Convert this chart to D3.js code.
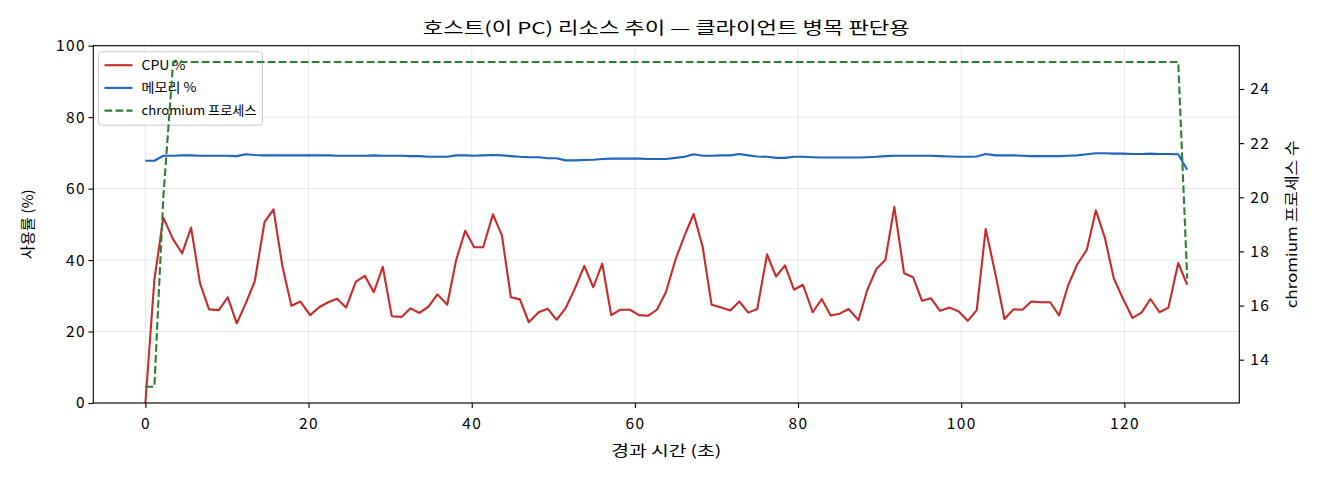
<!DOCTYPE html>
<html>
<head>
<meta charset="utf-8">
<script src="https://cdn.jsdelivr.net/npm/d3@7"></script>
<style>
body { margin: 0; background: #fff; }
text { font-family: "Noto Sans CJK KR", "Noto Sans", sans-serif; fill: #000; }
</style>
</head>
<body>
<div id="chart"></div>
<script>
// elapsed seconds per sample
const elapsed = [
  0.0, 1.1, 2.2, 3.4, 4.5, 5.6, 6.7, 7.8, 9.0, 10.1,
  11.2, 12.3, 13.4, 14.6, 15.7, 16.8, 17.9, 19.0, 20.2, 21.3,
  22.4, 23.5, 24.6, 25.8, 26.9, 28.0, 29.1, 30.2, 31.4, 32.5,
  33.6, 34.7, 35.8, 37.0, 38.1, 39.2, 40.3, 41.4, 42.6, 43.7,
  44.8, 45.9, 47.0, 48.2, 49.3, 50.4, 51.5, 52.6, 53.8, 54.9,
  56.0, 57.1, 58.2, 59.4, 60.5, 61.6, 62.7, 63.8, 65.0, 66.1,
  67.2, 68.3, 69.4, 70.6, 71.7, 72.8, 73.9, 75.0, 76.2, 77.3,
  78.4, 79.5, 80.6, 81.8, 82.9, 84.0, 85.1, 86.2, 87.4, 88.5,
  89.6, 90.7, 91.8, 93.0, 94.1, 95.2, 96.3, 97.4, 98.6, 99.7,
  100.8, 101.9, 103.0, 104.2, 105.3, 106.4, 107.5, 108.6, 109.8, 110.9,
  112.0, 113.1, 114.2, 115.4, 116.5, 117.6, 118.7, 119.8, 121.0, 122.1,
  123.2, 124.3, 125.4, 126.6, 127.7
];

const cpuPct = [
  0, 34.5, 51.9, 45.8, 41.9, 49.1, 33.5, 26.2, 26.0, 29.6,
  22.3, 27.9, 34.0, 50.6, 54.2, 38.2, 27.2, 28.4, 24.6, 26.8,
  28.2, 29.2, 26.7, 34.0, 35.6, 31.0, 38.1, 24.3, 24.1, 26.5,
  25.2, 27.0, 30.4, 27.5, 40.1, 48.2, 43.6, 43.6, 52.8, 46.9,
  29.6, 29.0, 22.6, 25.4, 26.4, 23.3, 26.5, 31.8, 38.4, 32.4,
  39.0, 24.6, 26.1, 26.1, 24.6, 24.4, 26.1, 31.0, 40.3, 46.9,
  52.9, 43.8, 27.5, 26.7, 25.9, 28.4, 25.3, 26.3, 41.6, 35.4,
  38.5, 31.7, 33.1, 25.4, 29.1, 24.5, 25.0, 26.3, 23.2, 31.7,
  37.5, 40.0, 54.9, 36.3, 35.2, 28.6, 29.3, 25.8, 26.7, 25.6,
  23.0, 26.0, 48.7, 36.0, 23.5, 26.2, 26.1, 28.4, 28.2, 28.2,
  24.5, 32.9, 38.7, 42.9, 53.9, 46.3, 34.9, 29.3, 23.8, 25.3,
  29.1, 25.4, 26.7, 39.2, 33.1
];

const memPct = [
  67.8, 67.8, 69.2, 69.2, 69.3, 69.3, 69.2, 69.2, 69.2, 69.2,
  69.1, 69.6, 69.4, 69.3, 69.3, 69.3, 69.3, 69.3, 69.3, 69.3,
  69.3, 69.2, 69.2, 69.2, 69.2, 69.3, 69.2, 69.2, 69.2, 69.1,
  69.1, 68.9, 68.9, 68.9, 69.3, 69.3, 69.2, 69.3, 69.4, 69.3,
  69.1, 68.9, 68.8, 68.8, 68.5, 68.5, 67.9, 67.9, 68.0, 68.1,
  68.3, 68.4, 68.4, 68.4, 68.4, 68.3, 68.3, 68.3, 68.6, 68.9,
  69.6, 69.2, 69.2, 69.3, 69.3, 69.7, 69.3, 69.0, 68.9, 68.6,
  68.6, 68.9, 68.9, 68.8, 68.7, 68.7, 68.7, 68.7, 68.7, 68.8,
  68.9, 69.1, 69.2, 69.2, 69.2, 69.2, 69.2, 69.1, 69.0, 68.9,
  68.9, 69.0, 69.7, 69.3, 69.3, 69.3, 69.2, 69.1, 69.1, 69.1,
  69.1, 69.2, 69.3, 69.6, 69.9, 69.9, 69.8, 69.8, 69.7, 69.7,
  69.8, 69.7, 69.7, 69.6, 65.3
];

const chromiumProcs = [
  13, 13, 20, 25, 25, 25, 25, 25, 25, 25,
  25, 25, 25, 25, 25, 25, 25, 25, 25, 25,
  25, 25, 25, 25, 25, 25, 25, 25, 25, 25,
  25, 25, 25, 25, 25, 25, 25, 25, 25, 25,
  25, 25, 25, 25, 25, 25, 25, 25, 25, 25,
  25, 25, 25, 25, 25, 25, 25, 25, 25, 25,
  25, 25, 25, 25, 25, 25, 25, 25, 25, 25,
  25, 25, 25, 25, 25, 25, 25, 25, 25, 25,
  25, 25, 25, 25, 25, 25, 25, 25, 25, 25,
  25, 25, 25, 25, 25, 25, 25, 25, 25, 25,
  25, 25, 25, 25, 25, 25, 25, 25, 25, 25,
  25, 25, 25, 25, 17
];

const xTicks = [0, 20, 40, 60, 80, 100, 120];
const yTicks = [0, 20, 40, 60, 80, 100];
const y2Ticks = [14, 16, 18, 20, 22, 24];
const seriesNames = ["CPU %", "메모리 %", "chromium 프로세스"];

const chartTitle = "호스트(이 PC) 리소스 추이 — 클라이언트 병목 판단용";
const xLabel = "경과 시간 (초)";
const yLabel = "사용률 (%)";
const y2Label = "chromium 프로세스 수";

const w = 1320, h = 480;
const padL = 93.3, padR = 1239.3, padT = 45.7, padB = 403;

const cpuColor = "#c92a2a", memColor = "#1c66c6", procColor = "#2e7d32";
const dashPat = "7.7,3.3";

// matplotlib-style 5% padding
function padded(ext) {
	let d = (ext[1] - ext[0]) * 0.05;
	return [ext[0] - d, ext[1] + d];
}

const svg = d3.select("#chart")
	.append("svg")
	.attr("width", w)
	.attr("height", h);

svg.append("rect").attr("width", w).attr("height", h).attr("fill", "#fff");

const xScale = d3.scaleLinear()
	.domain(padded(d3.extent(elapsed)))
	.range([padL, padR]);

const yScale = d3.scaleLinear()
	.domain([0, 100])
	.range([padB, padT]);

const y2Scale = d3.scaleLinear()
	.domain(padded(d3.extent(chromiumProcs)))
	.range([padB, padT]);

// grid
const grid = svg.append("g");
grid.selectAll(".vg").data(xTicks).enter().append("line")
	.attr("x1", d => xScale(d)).attr("x2", d => xScale(d))
	.attr("y1", padT).attr("y2", padB)
	.attr("stroke", "#b0b0b0").attr("stroke-opacity", 0.3).attr("stroke-width", 1);
grid.selectAll(".hg").data(yTicks).enter().append("line")
	.attr("y1", d => yScale(d)).attr("y2", d => yScale(d))
	.attr("x1", padL).attr("x2", padR)
	.attr("stroke", "#b0b0b0").attr("stroke-opacity", 0.3).attr("stroke-width", 1);

const idx = d3.range(elapsed.length);

function drawLine(values, scale, color, dash) {
	let p = svg.append("path")
		.datum(idx)
		.attr("fill", "none")
		.attr("stroke", color)
		.attr("stroke-width", 2.1)
		.attr("stroke-linejoin", "round")
		.attr("d", d3.line()
			.x(i => xScale(elapsed[i]))
			.y(i => scale(values[i])));
	if (dash) p.attr("stroke-dasharray", dash);
	return p;
}

// clip for the plot area
svg.append("clipPath").attr("id", "plot")
	.append("rect").attr("x", padL).attr("y", padT)
	.attr("width", padR - padL).attr("height", padB - padT);

drawLine(cpuPct, yScale, cpuColor).attr("clip-path", "url(#plot)");
drawLine(memPct, yScale, memColor).attr("clip-path", "url(#plot)");

// legend (belongs to left axes, twin line is drawn over it)
const legend = svg.append("g").attr("transform", "translate(98.5,51.7)");
legend.append("rect")
	.attr("width", 164).attr("height", 73.5)
	.attr("rx", 3).attr("ry", 3)
	.attr("fill", "#fff").attr("fill-opacity", 0.8)
	.attr("stroke", "#cccccc").attr("stroke-width", 1);
const legendItems = [
	{ name: seriesNames[0], color: cpuColor, dash: null, len: 44 },
	{ name: seriesNames[1], color: memColor, dash: null, len: 55 },
	{ name: seriesNames[2], color: procColor, dash: dashPat, len: 115 }
];
legendItems.forEach((it, i) => {
	let yy = 13.5 + i * 22.7;
	legend.append("line")
		.attr("x1", 6).attr("x2", 34)
		.attr("y1", yy).attr("y2", yy)
		.attr("stroke", it.color).attr("stroke-width", 2.1)
		.attr("stroke-dasharray", it.dash);
	legend.append("text")
		.attr("x", 43).attr("y", yy + 4.5)
		.attr("font-size", 13)
		.attr("textLength", it.len)
		.attr("lengthAdjust", "spacingAndGlyphs")
		.text(it.name);
});

drawLine(chromiumProcs, y2Scale, procColor, dashPat).attr("clip-path", "url(#plot)");

// axes
const xAxis = d3.axisBottom(xScale).tickValues(xTicks).tickSize(4.9).tickPadding(10);
const yAxis = d3.axisLeft(yScale).tickValues(yTicks).tickSize(4.9).tickPadding(2.5);
const y2Axis = d3.axisRight(y2Scale).tickValues(y2Ticks).tickSize(4.9).tickPadding(6);

function styleAxis(g) {
	g.select(".domain").remove();
	g.selectAll(".tick line").attr("stroke", "#000").attr("stroke-width", 1.1);
	g.selectAll(".tick text")
		.attr("font-size", 15.5)
		.attr("letter-spacing", 1.4)
		.attr("font-family", '"Noto Sans", sans-serif')
		.attr("fill", "#000");
}

svg.append("g").attr("transform", "translate(0," + padB + ")").call(xAxis).call(styleAxis);
svg.append("g").attr("transform", "translate(" + padL + ",0)").call(yAxis).call(styleAxis);
svg.append("g").attr("transform", "translate(" + padR + ",0)").call(y2Axis).call(styleAxis);

// frame
svg.append("rect")
	.attr("x", padL).attr("y", padT)
	.attr("width", padR - padL).attr("height", padB - padT)
	.attr("fill", "none").attr("stroke", "#000").attr("stroke-width", 1.1);

// labels
svg.append("text")
	.attr("x", (padL + padR) / 2).attr("y", 34)
	.attr("text-anchor", "middle").attr("font-size", 16.5)
	.attr("textLength", 487).attr("lengthAdjust", "spacingAndGlyphs")
	.text(chartTitle);

svg.append("text")
	.attr("x", (padL + padR) / 2).attr("y", 456)
	.attr("text-anchor", "middle").attr("font-size", 14.5)
	.attr("textLength", 110).attr("lengthAdjust", "spacingAndGlyphs")
	.text(xLabel);

svg.append("text")
	.attr("transform", "translate(33," + (padT + padB) / 2 + ") rotate(-90)")
	.attr("text-anchor", "middle").attr("font-size", 14.5)
	.attr("textLength", 70).attr("lengthAdjust", "spacingAndGlyphs")
	.text(yLabel);

svg.append("text")
	.attr("transform", "translate(1297," + (padT + padB) / 2 + ") rotate(-90)")
	.attr("text-anchor", "middle").attr("font-size", 14.5)
	.attr("textLength", 168).attr("lengthAdjust", "spacingAndGlyphs")
	.text(y2Label);
</script>
</body>
</html>
